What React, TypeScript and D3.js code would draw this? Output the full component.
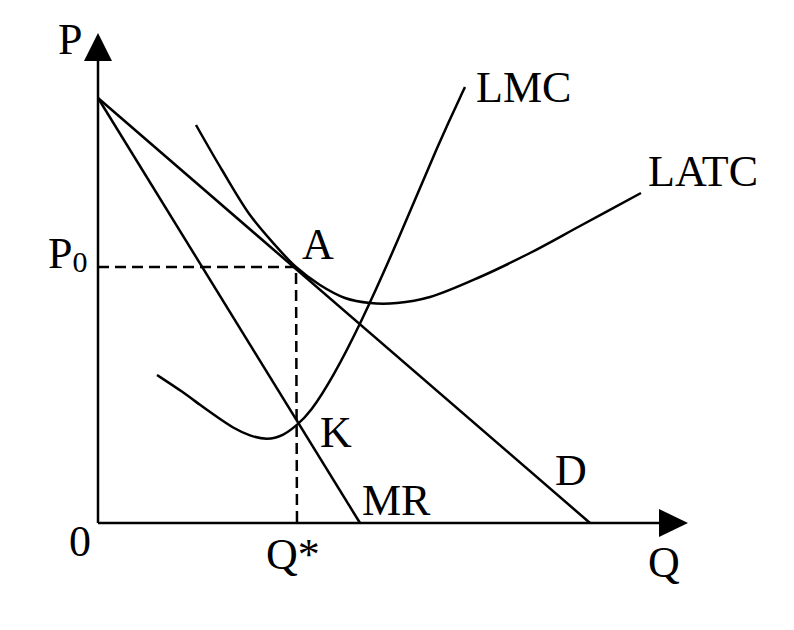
import React from "react";
import * as d3 from "d3";

// Data space: Q in [0, 600], P in [0, 500]; origin at bottom-left of axes
const W = 794;
const H = 630;

const demandLine: [number, number][] = [
  [0, 425],
  [492, 0],
];
const mrLine: [number, number][] = [
  [0, 425],
  [262, 0],
];
const latcQ = [98, 124, 152, 177, 198, 222, 247, 272, 299, 332, 382, 432, 482, 543];
const latcP = [398, 353, 308, 278, 256, 238, 225, 220, 220, 226, 246, 270, 297, 330];
const lmcQ = [59, 85, 102, 119, 135, 152, 169, 185, 199, 212, 235, 262, 299, 342, 367];
const lmcP = [148, 131, 118, 106, 95, 87, 83, 87, 98, 110, 146, 198, 280, 383, 436];
const equilibriumQ = 198;
const equilibriumP = 256;

const x = d3.scaleLinear().domain([0, 600]).range([98, 698]);
const y = d3.scaleLinear().domain([0, 500]).range([523, 23]);

const curve = (qs: number[], ps: number[], factory: d3.CurveFactory) =>
  d3
    .line<number>()
    .x((_, i) => x(qs[i]))
    .y((_, i) => y(ps[i]))
    .curve(factory)(qs) as string;

const straight = (pts: [number, number][]) =>
  d3
    .line<[number, number]>()
    .x((d) => x(d[0]))
    .y((d) => y(d[1]))(pts) as string;

export default function App() {
  const font = "'Liberation Serif', serif";
  const fs = 44;
  const stroke = { stroke: "#000", strokeWidth: 2.5, fill: "none" };
  const x0 = x(0);
  const y0 = y(0);
  return (
    <svg width={W} height={H} style={{ position: "absolute", left: 0, top: 0 }}>
      <rect width={W} height={H} fill="#fff" />
      {/* axes */}
      <line x1={x0} y1={y0} x2={x0} y2={58} stroke="#000" strokeWidth={2.5} />
      <polygon points={`${x0},33 ${x0 - 14},61 ${x0 + 14},61`} fill="#000" />
      <line x1={x0} y1={y0} x2={662} y2={y0} stroke="#000" strokeWidth={2.5} />
      <polygon points={`688,${y0} 659,${y0 - 14} 659,${y0 + 14}`} fill="#000" />
      {/* dashed guides */}
      <path
        d={`M${x0},${y(equilibriumP)} L${x(equilibriumQ)},${y(equilibriumP)} L${x(equilibriumQ) + 1},${y0}`}
        {...stroke}
        strokeDasharray="11,6"
      />
      {/* lines */}
      <path d={straight(demandLine)} {...stroke} />
      <path d={straight(mrLine)} {...stroke} />
      <path d={curve(latcQ, latcP, d3.curveCatmullRom.alpha(0.5))} {...stroke} />
      <path d={curve(lmcQ, lmcP, d3.curveBasis)} {...stroke} />
      {/* labels */}
      <g fontFamily={font} fontSize={fs} fill="#000">
        <text x={58} y={54}>P</text>
        <text x={48} y={268}>
          P<tspan fontSize={30} dy={4}>0</tspan>
        </text>
        <text x={302} y={259}>A</text>
        <text x={320} y={447}>K</text>
        <text x={476} y={102}>LMC</text>
        <text x={648} y={186}>LATC</text>
        <text x={555} y={485}>D</text>
        <text x={362} y={515}>MR</text>
        <text x={69} y={556}>0</text>
        <text x={266} y={569}>Q*</text>
        <text x={648} y={577}>Q</text>
      </g>
    </svg>
  );
}
